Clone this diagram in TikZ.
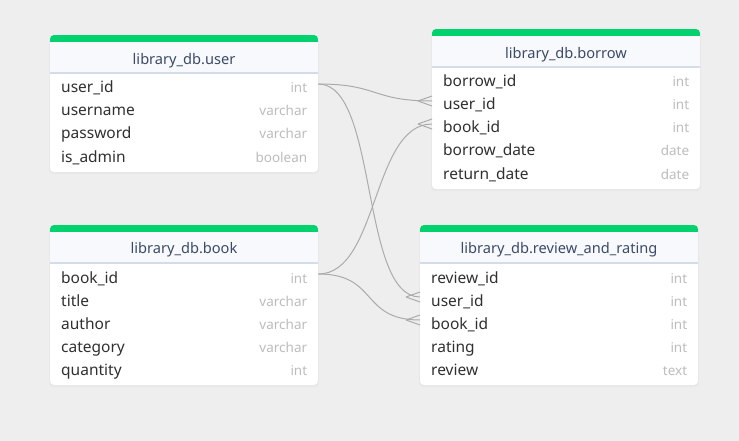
\documentclass[tikz,border=0pt]{standalone}
\usepackage{fontspec}
\setmainfont{Noto Sans}
\usetikzlibrary{arrows.meta,positioning,backgrounds,calc}

\definecolor{canvas}{HTML}{EEEEEE}
\definecolor{headgreen}{HTML}{02D26E}
\definecolor{headbg}{HTML}{F7F9FC}
\definecolor{sepline}{HTML}{D3DCE8}
\definecolor{titlegray}{HTML}{3C4A66}
\definecolor{fieldgray}{HTML}{303030}
\definecolor{typegray}{HTML}{BDBDBD}
\definecolor{linkgray}{HTML}{ABABAB}

\begin{document}
\begin{tikzpicture}[
    x=1pt, y=-1pt,
    title/.style={font=\fontsize{14.6}{17}\selectfont, text=titlegray, inner sep=0pt},
    field/.style={anchor=west, inner xsep=11pt, inner ysep=0pt, minimum height=23pt,
                  text height=21pt, text depth=3pt, align=left, text width=#1,
                  font=\fontsize{15.5}{18}\selectfont, text=fieldgray},
    field/.default=246pt,
    typ/.style={anchor=east, xshift=-11pt, inner sep=0pt, text height=21pt, text depth=3pt,
                font=\fontsize{13.5}{16}\selectfont, text=typegray},
    link/.style={draw=linkgray, line width=1pt},
    crow/.style={link}
]
\useasboundingbox (0,0) rectangle (739,441);

% ---- library_db.user ----
\node[title] (u-title) at (184,61) {library\_db.user};
\node[field] (u-id)    at (50,84)  {user\_id};   \node[typ] at (u-id.east)    {int};
\node[field] (u-name)  at (50,107) {username};   \node[typ] at (u-name.east)  {varchar};
\node[field] (u-pass)  at (50,130) {password};   \node[typ] at (u-pass.east)  {varchar};
\node[field] (u-admin) at (50,153) {is\_admin};  \node[typ] at (u-admin.east) {boolean};

% ---- library_db.borrow ----
\node[title] (b-title) at (566,55) {library\_db.borrow};
\node[field] (b-id)     at (432,78)  {borrow\_id};   \node[typ] at (b-id.east)     {int};
\node[field] (b-uid)    at (432,101) {user\_id};     \node[typ] at (b-uid.east)    {int};
\node[field] (b-bid)    at (432,124) {book\_id};     \node[typ] at (b-bid.east)    {int};
\node[field] (b-date)   at (432,147) {borrow\_date}; \node[typ] at (b-date.east)   {date};
\node[field] (b-return) at (432,170) {return\_date}; \node[typ] at (b-return.east) {date};

% ---- library_db.book ----
\node[title] (k-title) at (184,250) {library\_db.book};
\node[field] (k-id)    at (50,274) {book\_id};  \node[typ] at (k-id.east)    {int};
\node[field] (k-title2) at (50,297) {title};    \node[typ] at (k-title2.east) {varchar};
\node[field] (k-author) at (50,320) {author};   \node[typ] at (k-author.east) {varchar};
\node[field] (k-cat)   at (50,343) {category};  \node[typ] at (k-cat.east)   {varchar};
\node[field] (k-qty)   at (50,366) {quantity};  \node[typ] at (k-qty.east)   {int};

% ---- library_db.review_and_rating ----
\node[title] (r-title) at (559,250) {library\_db.review\_and\_rating};
\node[field=256pt] (r-id)     at (420,274) {review\_id}; \node[typ] at (r-id.east)     {int};
\node[field=256pt] (r-uid)    at (420,297) {user\_id};   \node[typ] at (r-uid.east)    {int};
\node[field=256pt] (r-bid)    at (420,320) {book\_id};   \node[typ] at (r-bid.east)    {int};
\node[field=256pt] (r-rating) at (420,343) {rating};     \node[typ] at (r-rating.east) {int};
\node[field=256pt] (r-text)   at (420,366) {review};     \node[typ] at (r-text.east)   {text};

% ---- canvas and table cards: left/top/right/separator/bottom ----
\begin{scope}[on background layer]
  \fill[canvas] (0,0) rectangle (739,441);
  \foreach \l/\t/\r/\s/\b in {50/35/318/73/172, 432/29/700/67/189,
                              50/225/318/263/385, 420/225/698/263/385} {
    \fill[black!9, rounded corners=4pt] (\l-1,\t+1) rectangle (\r+1,\b+2);
    \begin{scope}
      \clip[rounded corners=4pt] (\l,\t) rectangle (\r,\b);
      \fill[white] (\l,\t) rectangle (\r,\b);
      \fill[headbg] (\l,\t) rectangle (\r,\s);
      \fill[headgreen] (\l,\t) rectangle (\r,\t+7);
      \draw[sepline, line width=1.2pt] (\l,\s) -- (\r,\s);
    \end{scope}
  }
\end{scope}

% ---- references (crow's foot at the many side) ----
\draw[link] (u-id.east) .. controls +(60,0) and +(-60,0) .. (b-uid.west);
\draw[crow] ([xshift=-14pt]b-uid.west) -- ([yshift=5pt]b-uid.west)
            ([xshift=-14pt]b-uid.west) -- ([yshift=-5pt]b-uid.west);
\draw[link] (u-id.east) .. controls +(60,0) and +(-60,0) .. (r-uid.west);
\draw[crow] ([xshift=-14pt]r-uid.west) -- ([yshift=5pt]r-uid.west)
            ([xshift=-14pt]r-uid.west) -- ([yshift=-5pt]r-uid.west);
\draw[link] (k-id.east) .. controls +(60,0) and +(-60,0) .. (b-bid.west);
\draw[crow] ([xshift=-14pt]b-bid.west) -- ([yshift=5pt]b-bid.west)
            ([xshift=-14pt]b-bid.west) -- ([yshift=-5pt]b-bid.west);
\draw[link] (k-id.east) .. controls +(60,0) and +(-60,0) .. (r-bid.west);
\draw[crow] ([xshift=-14pt]r-bid.west) -- ([yshift=5pt]r-bid.west)
            ([xshift=-14pt]r-bid.west) -- ([yshift=-5pt]r-bid.west);

\end{tikzpicture}
\end{document}
